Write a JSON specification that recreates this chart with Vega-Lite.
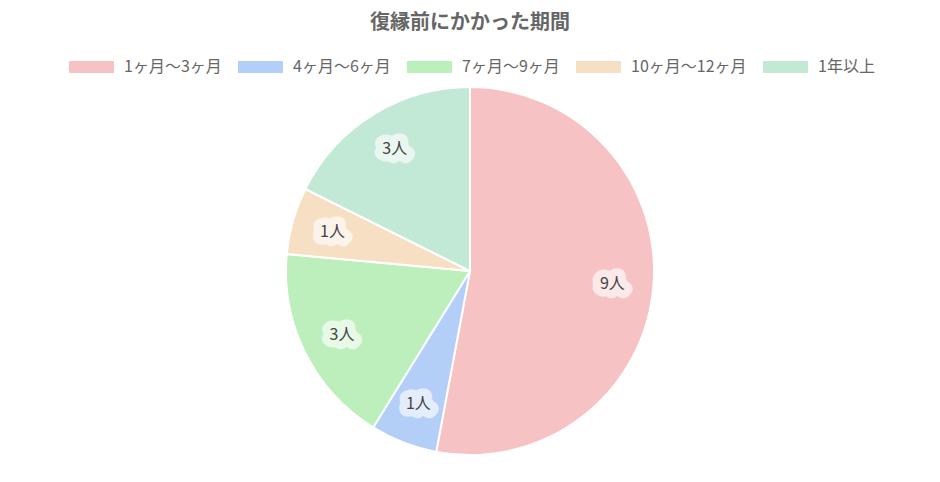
{
  "$schema": "https://vega.github.io/schema/vega-lite/v6.json",
  "width": 940,
  "height": 482,
  "autosize": {"type": "none"},
  "padding": 0,
  "background": "white",
  "title": {
    "text": "復縁前にかかった期間",
    "font": "Noto Sans CJK JP",
    "fontSize": 20,
    "fontWeight": "bold",
    "color": "#666666",
    "anchor": "middle",
    "frame": "group",
    "baseline": "alphabetic",
    "offset": -28,
    "dy": 21
  },
  "data": {
    "values": [
      {"period": "1ヶ月〜3ヶ月", "count": 9, "idx": 1, "label": "9人"},
      {"period": "4ヶ月〜6ヶ月", "count": 1, "idx": 2, "label": "1人"},
      {"period": "7ヶ月〜9ヶ月", "count": 3, "idx": 3, "label": "3人"},
      {"period": "10ヶ月〜12ヶ月", "count": 1, "idx": 4, "label": "1人"},
      {"period": "1年以上", "count": 3, "idx": 5, "label": "3人"}
    ]
  },
  "encoding": {
    "theta": {"field": "count", "type": "quantitative", "stack": true},
    "order": {"field": "idx", "type": "quantitative"},
    "color": {
      "field": "period",
      "type": "nominal",
      "sort": ["1ヶ月〜3ヶ月", "4ヶ月〜6ヶ月", "7ヶ月〜9ヶ月", "10ヶ月〜12ヶ月", "1年以上"],
      "scale": {
        "domain": ["1ヶ月〜3ヶ月", "4ヶ月〜6ヶ月", "7ヶ月〜9ヶ月", "10ヶ月〜12ヶ月", "1年以上"],
        "range": ["#f7c2c3", "#b3cef7", "#bcefbc", "#f7dfc3", "#c2e8d6"]
      },
      "legend": {
        "orient": "none",
        "legendX": 67,
        "legendY": 59,
        "direction": "horizontal",
        "columns": 5,
        "title": null,
        "padding": 0,
        "symbolType": "M-1,-1H6.5V1H-1Z",
        "symbolSize": 144,
        "symbolStrokeWidth": 0,
        "symbolOpacity": 1,
        "labelOffset": 41,
        "columnPadding": 14,
        "labelFont": "Noto Sans CJK JP",
        "labelFontSize": 16,
        "labelColor": "#666666"
      }
    }
  },
  "layer": [
    {
      "mark": {"type": "arc", "x": 470, "y": 271, "outerRadius": 184, "stroke": "white", "strokeWidth": 2}
    },
    {
      "mark": {
        "type": "text",
        "x": 470,
        "y": 271,
        "radius": 143,
        "font": "Noto Sans CJK JP",
        "fontSize": 16,
        "fontWeight": 900,
        "fill": "white",
        "stroke": "white",
        "strokeWidth": 15,
        "strokeJoin": "round",
        "opacity": 0.65
      },
      "encoding": {"text": {"field": "label"}, "color": {"value": "white"}}
    },
    {
      "mark": {
        "type": "text",
        "x": 470,
        "y": 271,
        "radius": 143,
        "font": "Noto Sans CJK JP",
        "fontSize": 16,
        "fill": "#444444"
      },
      "encoding": {"text": {"field": "label"}, "color": {"value": "#444444"}}
    }
  ]
}
